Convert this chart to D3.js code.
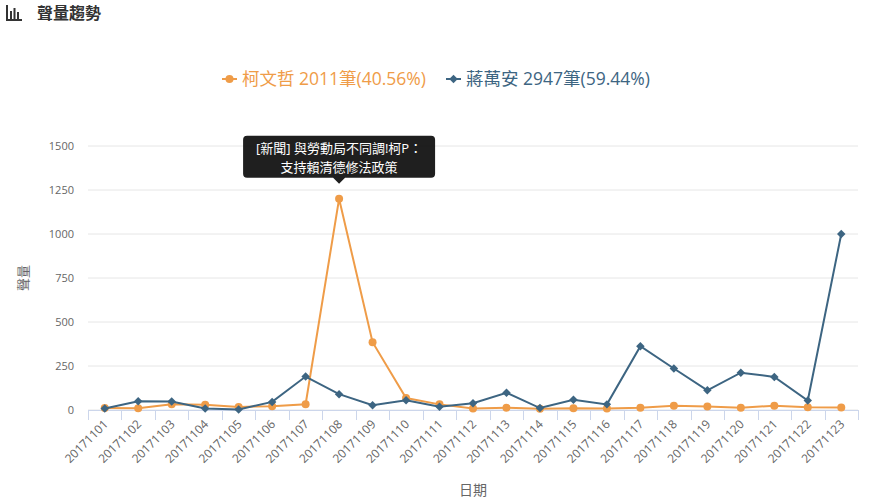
<!DOCTYPE html>
<html>
<head>
<meta charset="utf-8">
<script src="https://cdn.jsdelivr.net/npm/d3@7"></script>
<style>
  body { margin: 0; background: #fff; }
  svg { font-family: "Open Sans", "Noto Sans CJK TC", sans-serif; }
</style>
</head>
<body>
<svg></svg>
<script>
const size = {w: 870, h: 502};
const margin = {t: 146, r: 12, b: 92, l: 88};

// data
const dates = ['20171101','20171102','20171103','20171104','20171105','20171106','20171107',
  '20171108','20171109','20171110','20171111','20171112','20171113','20171114','20171115',
  '20171116','20171117','20171118','20171119','20171120','20171121','20171122','20171123'];
const koValues = [12, 10, 32, 30, 17, 22, 33, 1200, 385, 68, 32, 8, 13, 7, 10, 8, 13, 24, 20, 13, 24, 16, 14];
const chiangValues = [9, 50, 48, 8, 3, 46, 190, 90, 27, 56, 19, 38, 98, 11, 58, 32, 362, 236, 112, 212, 188, 54, 1000];
const yTicks = [0, 250, 500, 750, 1000, 1250, 1500];
const seriesNames = ['柯文哲 2011筆(40.56%)', '蔣萬安 2947筆(59.44%)'];
const seriesColors = ['#ef9c48', '#3d6582'];
const tooltipLines = ['[新聞] 與勞動局不同調!柯P：', '支持賴清德修法政策'];

const svg = d3.select('svg')
    .attr('width', size.w)
    .attr('height', size.h);

// ---- header ----
const head = svg.append('g');
// small bar icon
head.append('path')
    .attr('d', 'M7,5 V20 H22 M11,11 V19 M14.5,8 V19 M18,12 V19')
    .attr('stroke', '#333').attr('stroke-width', 2).attr('fill', 'none');
head.append('text')
    .attr('x', 37).attr('y', 19)
    .attr('font-size', 16).attr('font-weight', 'bold')
    .attr('fill', '#333')
    .text('聲量趨勢');

// ---- scales ----
const x = d3.scaleBand()
    .domain(dates)
    .range([margin.l, size.w - margin.r]);
const y = d3.scaleLinear()
    .domain([0, 1500])
    .range([size.h - margin.b, margin.t]);

const cx = d => x(d) + x.bandwidth() / 2;

// ---- grid ----
svg.append('g').selectAll('line')
    .data(yTicks)
    .join('line')
    .attr('x1', margin.l).attr('x2', size.w - margin.r)
    .attr('y1', d => y(d)).attr('y2', d => y(d))
    .attr('stroke', '#e6e6e6').attr('stroke-width', 1);

// y labels
svg.append('g').selectAll('text')
    .data(yTicks)
    .join('text')
    .attr('x', 74).attr('y', d => y(d) + 4)
    .attr('text-anchor', 'end')
    .attr('font-size', 11).attr('fill', '#666')
    .text(d => d);

// x axis line + ticks
const base = y(0);
svg.append('line')
    .attr('x1', margin.l).attr('x2', size.w - margin.r)
    .attr('y1', base + 0.5).attr('y2', base + 0.5)
    .attr('stroke', '#ccd6eb');
const bounds = dates.map(d => x(d)).concat([size.w - margin.r]);
svg.append('g').selectAll('line')
    .data(bounds)
    .join('line')
    .attr('x1', d => Math.round(d) + 0.5).attr('x2', d => Math.round(d) + 0.5)
    .attr('y1', base).attr('y2', base + 10)
    .attr('stroke', '#ccd6eb');

// x labels
svg.append('g').selectAll('text')
    .data(dates)
    .join('text')
    .attr('transform', d => `translate(${cx(d) + 4},${base + 15}) rotate(-45)`)
    .attr('text-anchor', 'end')
    .attr('font-size', 12).attr('fill', '#666')
    .text(d => d);

// axis titles
svg.append('text')
    .attr('transform', `translate(28,${(margin.t + base) / 2}) rotate(-90)`)
    .attr('text-anchor', 'middle')
    .attr('font-size', 13).attr('fill', '#666')
    .text('聲量');
svg.append('text')
    .attr('x', (margin.l + size.w - margin.r) / 2).attr('y', 495)
    .attr('text-anchor', 'middle')
    .attr('font-size', 14).attr('fill', '#666')
    .text('日期');

// ---- lines ----
const line = d3.line()
    .x((d, i) => cx(dates[i]))
    .y(d => y(d));

// square turned 45deg, like the reference's diamonds
const diamond = d3.symbol().type(d3.symbolSquare).size(36);

[koValues, chiangValues].forEach((vals, k) => {
    const g = svg.append('g');
    g.append('path')
        .attr('d', line(vals))
        .attr('fill', 'none')
        .attr('stroke', seriesColors[k])
        .attr('stroke-width', 2);
    if (k === 0) {
        g.selectAll('circle')
            .data(vals)
            .join('circle')
            .attr('cx', (d, i) => cx(dates[i]))
            .attr('cy', d => y(d))
            .attr('r', 4)
            .attr('fill', seriesColors[k]);
    } else {
        g.selectAll('path.m')
            .data(vals)
            .join('path')
            .classed('m', true)
            .attr('d', diamond)
            .attr('transform', (d, i) => `translate(${cx(dates[i])},${y(d)}) rotate(45)`)
            .attr('fill', seriesColors[k]);
    }
});

// ---- legend ----
const legend = svg.append('g').attr('transform', 'translate(0,79)');
const legX = [222, 446];
seriesNames.forEach((name, k) => {
    const lg = legend.append('g').attr('transform', `translate(${legX[k]},0)`);
    lg.append('line')
        .attr('x1', 0).attr('x2', 15).attr('y1', 0).attr('y2', 0)
        .attr('stroke', seriesColors[k]).attr('stroke-width', 2);
    if (k === 0) {
        lg.append('circle').attr('cx', 7.5).attr('cy', 0).attr('r', 4).attr('fill', seriesColors[k]);
    } else {
        lg.append('path').attr('d', diamond).attr('transform', 'translate(7.5,0) rotate(45)').attr('fill', seriesColors[k]);
    }
    lg.append('text')
        .attr('x', 20).attr('y', 6)
        .attr('font-size', 17.5)
        .attr('fill', seriesColors[k])
        .text(name);
});

// ---- tooltip on peak ----
const peakI = koValues.indexOf(d3.max(koValues));
const tipX = cx(dates[peakI]);
const tipY = y(koValues[peakI]) - 15;
const bw = 192, bh = 42, rr = 4, ah = 6;
const tip = svg.append('g').attr('transform', `translate(${tipX},${tipY})`);
const bl = -bw / 2, bt = -ah - bh;
tip.append('path')
    .attr('d', `M${bl + rr},${bt} H${-bl - rr} Q${-bl},${bt} ${-bl},${bt + rr}
        V${-ah - rr} Q${-bl},${-ah} ${-bl - rr},${-ah} H${ah} L0,0 L${-ah},${-ah}
        H${bl + rr} Q${bl},${-ah} ${bl},${-ah - rr} V${bt + rr} Q${bl},${bt} ${bl + rr},${bt} Z`)
    .attr('fill', 'rgba(0,0,0,0.88)');
tip.selectAll('text')
    .data(tooltipLines)
    .join('text')
    .attr('x', 0)
    .attr('y', (d, i) => bt + 17 + i * 19)
    .attr('text-anchor', 'middle')
    .attr('font-size', 13)
    .attr('fill', '#fff')
    .text(d => d);
</script>
</body>
</html>
